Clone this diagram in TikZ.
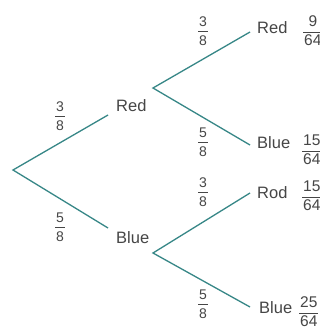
\documentclass[tikz,border=0pt]{standalone}
\usepackage{fontspec}
\setmainfont{Liberation Sans}
\usepackage{array}
\renewcommand\arraystretch{0}
\setlength\arrayrulewidth{1.1pt}
\definecolor{branch}{RGB}{55,135,135}
\definecolor{ink}{RGB}{70,70,70}
\newcommand\fr[2]{\begin{tabular}{@{\hspace{1pt}}c@{\hspace{1pt}}}\rule[-5pt]{0pt}{15pt}#1\\\hline\rule{0pt}{13pt}#2\end{tabular}}
\begin{document}
\begin{tikzpicture}[x=1pt,y=-1pt,
  branchline/.style={draw=branch, line width=1.3pt, line join=miter},
  lbl/.style={inner sep=0pt, text=ink, font=\fontsize{16.5}{18}\selectfont, anchor=west},
  prob/.style={inner sep=0pt, text=ink, font=\fontsize{14}{16}\selectfont},
  finalprob/.style={inner sep=0pt, text=ink, font=\fontsize{15.5}{17}\selectfont, anchor=west}]
\useasboundingbox[fill=white] (0,0) rectangle (320,329);
% branch points
\coordinate (r) at (13,170);
\coordinate (a) at (108,115);
\coordinate (b) at (108,228);
\coordinate (a0) at (153,88);
\coordinate (b0) at (153,253);
\coordinate (aa) at (250,32);
\coordinate (ab) at (250,145);
\coordinate (ba) at (250,193);
\coordinate (bb) at (250,307);
% branches
\draw[branchline] (a) -- (r) -- (b);
\draw[branchline] (aa) -- (a0) -- (ab);
\draw[branchline] (ba) -- (b0) -- (bb);
% outcome labels
\node[lbl] (lr) at (116,106) {Red};
\node[lbl] (lb) at (116,238) {Blue};
\node[lbl] (lrr) at (257,28) {Red};
\node[lbl] (lrb) at (257,143) {Blue};
\node[lbl] (lbr) at (257,193) {Rod};
\node[lbl] (lbb) at (259,308) {Blue};
% branch probabilities
\node[prob] (p1) at (60,116) {\fr{3}{8}};
\node[prob] (p2) at (60,227) {\fr{5}{8}};
\node[prob] (p3) at (203,31) {\fr{3}{8}};
\node[prob] (p4) at (203,142) {\fr{5}{8}};
\node[prob] (p5) at (203,192) {\fr{3}{8}};
\node[prob] (p6) at (203,304) {\fr{5}{8}};
% final probabilities
\node[finalprob] (q1) at (303,31) {\fr{9}{64}};
\node[finalprob] (q2) at (302,150) {\fr{15}{64}};
\node[finalprob] (q3) at (302,196) {\fr{15}{64}};
\node[finalprob] (q4) at (299,312) {\fr{25}{64}};
\end{tikzpicture}
\end{document}
